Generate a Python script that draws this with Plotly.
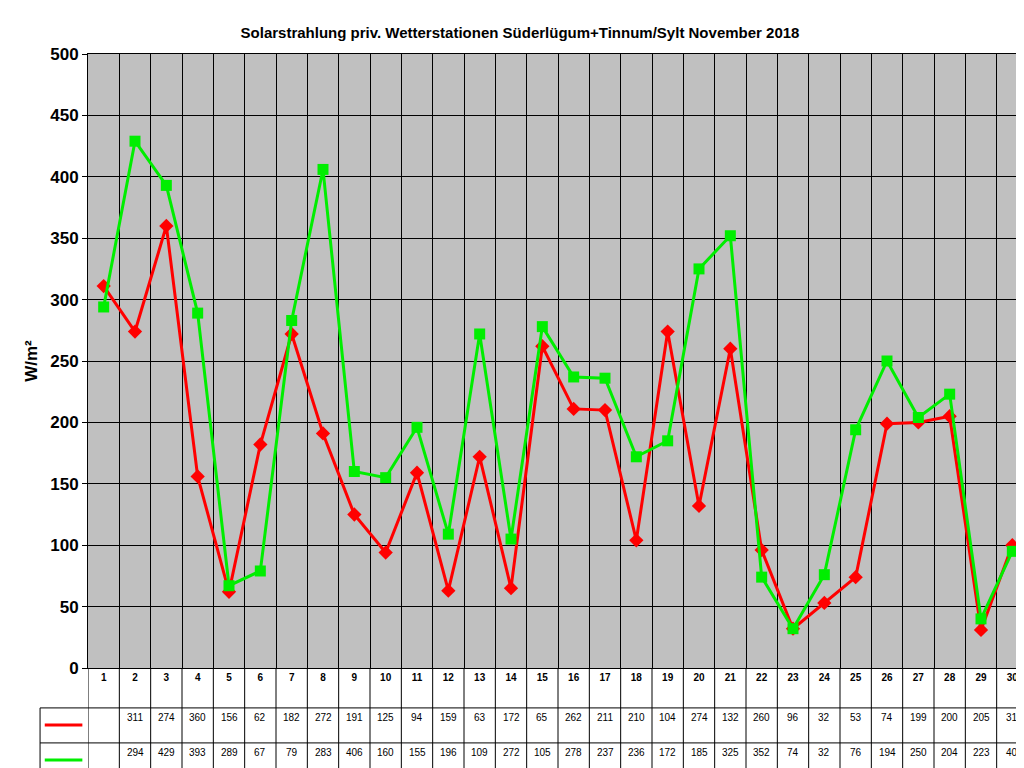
import plotly.graph_objects as go

days = [str(d) for d in range(1, 31)]
suederluegum = [311, 274, 360, 156, 62, 182, 272, 191, 125, 94, 159, 63, 172, 65, 262,
                211, 210, 104, 274, 132, 260, 96, 32, 53, 74, 199, 200, 205, 31, 100]
tinnum = [294, 429, 393, 289, 67, 79, 283, 406, 160, 155, 196, 109, 272, 105, 278,
          237, 236, 172, 185, 325, 352, 74, 32, 76, 194, 250, 204, 223, 40, 95]

RED = "#FF0000"
GREEN = "#00EE00"

fig = go.Figure()
fig.add_trace(go.Scatter(x=days, y=suederluegum, mode="lines+markers",
                         line=dict(color=RED, width=3),
                         marker=dict(symbol="diamond", size=11, color=RED)))
fig.add_trace(go.Scatter(x=days, y=tinnum, mode="lines+markers",
                         line=dict(color=GREEN, width=3),
                         marker=dict(symbol="square", size=11, color=GREEN)))

# data table under the plot
row_y = [-0.093, -0.150]
shapes = []
for frac in [-0.065, -0.122, -0.177]:
    shapes.append(dict(type="line", xref="paper", yref="paper", x0=-0.051, x1=1,
                       y0=frac, y1=frac, line=dict(color="black", width=1)))
shapes.append(dict(type="line", xref="paper", yref="paper", x0=-0.051, x1=-0.051,
                   y0=-0.065, y1=-0.177, line=dict(color="black", width=1)))
for i in range(len(days) + 1):
    shapes.append(dict(type="line", xref="x", yref="paper", x0=i - 0.5, x1=i - 0.5,
                       y0=-0.177, y1=0, line=dict(color="black", width=1)))
annotations = []
for series, yy in [(suederluegum, row_y[0]), (tinnum, row_y[1])]:
    for d, v in zip(days, series):
        annotations.append(dict(x=d, y=yy, xref="x", yref="paper", text=str(v),
                                showarrow=False, font=dict(size=10, color="black",
                                                           family="Liberation Sans")))
# legend keys
for yy, col, sym in [(row_y[0], RED, "diamond"), (row_y[1], GREEN, "square")]:
    shapes.append(dict(type="line", xref="paper", yref="paper", x0=-0.046, x1=-0.006,
                       y0=yy, y1=yy, line=dict(color=col, width=3)))
fig.add_trace(go.Scatter(x=[-0.026, -0.026], y=row_y, xaxis="x2", yaxis="y2",
                         mode="markers", cliponaxis=False,
                         marker=dict(symbol=["diamond", "square"], size=11,
                                     color=[RED, GREEN])))

fig.update_layout(
    width=1024, height=768,
    margin=dict(l=80, r=4, t=46, b=108),
    paper_bgcolor="white", plot_bgcolor="#C0C0C0",
    showlegend=False,
    font=dict(family="Liberation Sans", color="black"),
    title=dict(text="<b>Solarstrahlung priv. Wetterstationen Süderlügum+Tinnum/Sylt November 2018</b>",
               x=0.5, xanchor="center", y=0.975, font=dict(size=15)),
    xaxis=dict(type="category", tickson="boundaries", showgrid=True,
               gridcolor="black", gridwidth=1, ticks="", range=[-0.5, 29.5],
               tickfont=dict(size=10, family="Liberation Sans"),
               showline=True, linecolor="black", mirror=True, fixedrange=True),
    yaxis=dict(range=[0, 500], dtick=50, showgrid=True, gridcolor="black",
               tickfont=dict(size=17, family="Liberation Sans"),
               tickprefix="<b>", ticksuffix="</b>",
               ticks="outside", ticklen=5, tickcolor="black",
               showline=True, linecolor="black", mirror=True, zeroline=False,
               title=dict(text="<b>W/m²</b>", font=dict(size=17), standoff=8)),
    xaxis2=dict(range=[0, 1], overlaying="x", visible=False, domain=[0, 1]),
    yaxis2=dict(range=[0, 1], overlaying="y", visible=False),
    shapes=shapes, annotations=annotations,
)
# map helper axes to paper coords
fig.data[2].update(xaxis="x2", yaxis="y2")
fig.update_xaxes(tickprefix="<b>", ticksuffix="</b>", selector=dict(type="category"))
fig.write_html("out.html")
